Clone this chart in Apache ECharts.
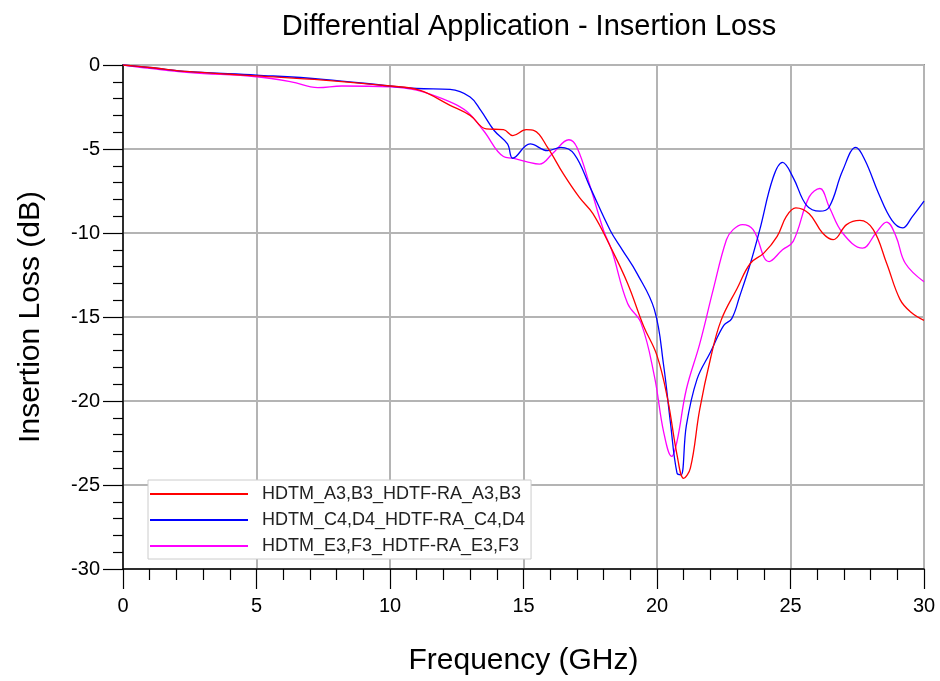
<!DOCTYPE html>
<html>
<head>
<meta charset="utf-8">
<script src="https://cdn.jsdelivr.net/npm/echarts@6/dist/echarts.min.js"></script>
<style>
html, body { margin: 0; padding: 0; background: #fff; }
#chart { width: 940px; height: 681px; }
</style>
</head>
<body>
<div id="chart"></div>
<script>
// series names as in the legend
var seriesNames = [
  "HDTM_A3,B3_HDTF-RA_A3,B3",
  "HDTM_C4,D4_HDTF-RA_C4,D4",
  "HDTM_E3,F3_HDTF-RA_E3,F3"
];

// frequency (GHz) and insertion loss (dB)
var freqA = [0, 1, 2.5, 4, 5, 7.5, 10, 11.1, 12.25, 13, 13.6, 14.25, 14.6, 15.1, 15.4, 15.9, 16.5, 17.1, 17.6, 18.25, 18.9, 19.5, 20, 20.4, 20.75, 21, 21.25, 21.6, 22, 22.4, 23, 23.5, 24, 24.5, 24.85, 25.2, 25.7, 26.2, 26.6, 27.1, 27.6, 28.1, 28.6, 29.1, 29.5, 30];
var lossA = [0, -0.15, -0.4, -0.55, -0.65, -0.9, -1.25, -1.5, -2.4, -3.0, -3.8, -3.85, -4.2, -3.85, -3.9, -4.9, -6.5, -7.9, -8.85, -10.8, -13.0, -15.55, -17.3, -19.9, -23.2, -24.6, -24.0, -20.5, -17.5, -15.2, -13.3, -11.8, -11.2, -10.2, -9.0, -8.5, -8.85, -10.0, -10.4, -9.5, -9.25, -9.8, -11.8, -13.95, -14.7, -15.2];

var freqB = [0, 1, 2.5, 5, 7.5, 10, 11, 12.25, 13, 13.4, 13.9, 14.4, 14.6, 15.25, 15.9, 16.4, 16.9, 17.5, 18.25, 18.7, 19.25, 19.9, 20.25, 20.5, 20.75, 20.9, 21.1, 21.5, 22, 22.5, 22.8, 23.1, 23.5, 23.85, 24.35, 24.7, 25.1, 25.6, 26.1, 26.45, 26.95, 27.45, 27.8, 28.3, 28.8, 29.2, 29.55, 30];
var lossB = [0, -0.15, -0.4, -0.6, -0.85, -1.25, -1.4, -1.45, -1.9, -2.7, -3.9, -4.7, -5.55, -4.7, -5.1, -4.9, -5.3, -7.3, -9.85, -11.0, -12.4, -14.55, -17.9, -21.25, -24.3, -24.4, -21.45, -18.7, -17.1, -15.5, -15.1, -13.75, -11.8, -9.8, -6.7, -5.8, -6.7, -8.35, -8.7, -8.45, -6.3, -4.9, -5.7, -7.65, -9.25, -9.7, -9.05, -8.1];

var freqC = [0, 1, 2.5, 5, 6.3, 7.3, 8.2, 10, 11, 12.25, 12.9, 13.5, 14.25, 14.6, 15.1, 15.6, 16.1, 16.7, 17.0, 17.5, 18.0, 18.3, 18.9, 19.4, 19.9, 20.25, 20.55, 20.75, 21.1, 21.6, 22.1, 22.6, 22.85, 23.2, 23.6, 24.2, 24.7, 25.1, 25.7, 26.1, 26.45, 26.95, 27.7, 28.2, 28.6, 28.95, 29.3, 30];
var lossC = [0, -0.2, -0.45, -0.7, -1.0, -1.35, -1.25, -1.3, -1.5, -2.2, -2.8, -3.9, -5.45, -5.55, -5.75, -5.9, -5.25, -4.45, -4.9, -7.25, -9.85, -11.0, -14.2, -15.35, -18.5, -21.85, -23.3, -22.4, -19.3, -16.6, -13.4, -10.4, -9.8, -9.5, -9.8, -11.7, -11.0, -10.5, -7.85, -7.35, -8.45, -10.0, -10.9, -10.0, -9.35, -10.2, -11.8, -12.9];

var xTicks = [0, 5, 10, 15, 20, 25, 30];
var yTicks = [0, -5, -10, -15, -20, -25, -30];

function zip(xs, ys) {
  return xs.map(function (x, i) { return [x, ys[i]]; });
}

var font = "'Liberation Sans', Arial, sans-serif";
var colors = ["#ff0000", "#0000ff", "#ff00ff"];

var chart = echarts.init(document.getElementById("chart"));
chart.setOption({
  animation: false,
  title: {
    text: "Differential Application - Insertion Loss",
    left: 524,
    textAlign: "center",
    top: 7,
    textStyle: { fontFamily: font, fontSize: 29, fontWeight: "normal", color: "#000" }
  },
  legend: {
    orient: "vertical",
    left: 148,
    top: 480,
    padding: [5, 6, 4, 2],
    backgroundColor: "#fff",
    borderColor: "#cccccc",
    borderWidth: 1,
    itemWidth: 98,
    itemHeight: 2,
    itemGap: 8,
    icon: "rect",
    textStyle: { fontFamily: font, fontSize: 18, color: "#222", padding: [0, 0, 0, 9] },
    data: seriesNames.map(function (n, i) {
      return { name: n, itemStyle: { color: colors[i] } };
    })
  },
  grid: {
    left: 123, right: 16, top: 65, bottom: 111,
    show: true, borderColor: "#444", borderWidth: 1.5
  },
  xAxis: {
    type: "value",
    min: 0, max: 30, interval: 5,
    name: "Frequency (GHz)",
    nameLocation: "middle",
    nameGap: 77,
    nameTextStyle: { fontFamily: font, fontSize: 30, color: "#000" },
    axisLine: { show: true, onZero: false, lineStyle: { color: "#000", width: 1.5 } },
    axisTick: { show: true, inside: false, length: 20, lineStyle: { color: "#000", width: 1.2 } },
    minorTick: { show: true, splitNumber: 5, length: 11, lineStyle: { color: "#000", width: 1.2 } },
    axisLabel: {
      margin: 27, fontFamily: font, fontSize: 20, color: "#000",
      formatter: function (v) { return xTicks.indexOf(v) >= 0 ? String(v) : ""; }
    },
    splitLine: { show: true, lineStyle: { color: "#b4b4b4", width: 2 } }
  },
  yAxis: {
    type: "value",
    min: -30, max: 0, interval: 5,
    name: "Insertion Loss (dB)",
    nameLocation: "middle",
    nameGap: 77,
    nameTextStyle: { fontFamily: font, fontSize: 30, color: "#000" },
    axisLine: { show: true, onZero: false, lineStyle: { color: "#000", width: 1.5 } },
    axisTick: { show: true, inside: false, length: 20, lineStyle: { color: "#000", width: 1.2 } },
    minorTick: { show: true, splitNumber: 5, length: 10, lineStyle: { color: "#000", width: 1.2 } },
    axisLabel: {
      margin: 23, fontFamily: font, fontSize: 20, color: "#000",
      formatter: function (v) { return yTicks.indexOf(v) >= 0 ? String(v) : ""; }
    },
    splitLine: { show: true, lineStyle: { color: "#b4b4b4", width: 2 } }
  },
  series: [
    { name: seriesNames[0], type: "line", data: zip(freqA, lossA) },
    { name: seriesNames[1], type: "line", data: zip(freqB, lossB) },
    { name: seriesNames[2], type: "line", data: zip(freqC, lossC) }
  ].map(function (s, i) {
    s.smooth = 0.4;
    s.symbol = "none";
    s.lineStyle = { color: colors[i], width: 1.3 };
    s.itemStyle = { color: colors[i] };
    s.z = 3 - i;
    return s;
  })
});
</script>
</body>
</html>
